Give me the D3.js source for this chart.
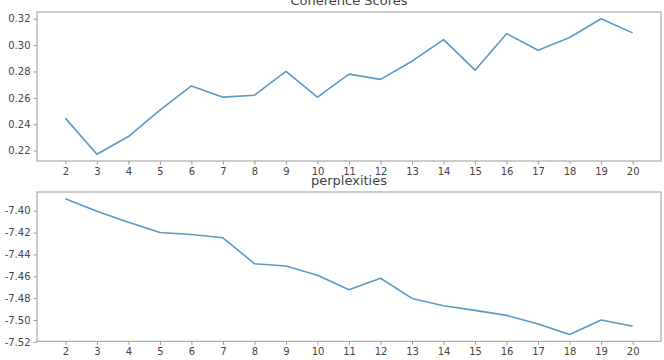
<!DOCTYPE html>
<html>
<head>
<meta charset="utf-8">
<script src="https://cdn.jsdelivr.net/npm/d3@7"></script>
<style>
body { margin: 0; background: #fff; }
text { font-family: "DejaVu Sans", sans-serif; }
</style>
</head>
<body>
<div class="canvas"></div>
<script>
// data
const topics = [2, 3, 4, 5, 6, 7, 8, 9, 10, 11, 12, 13, 14, 15, 16, 17, 18, 19, 20]
const coherence = [0.2446, 0.2172, 0.2306, 0.2507, 0.2690, 0.2605, 0.2620, 0.2800, 0.2605,
    0.2780, 0.2740, 0.2878, 0.3042, 0.2810, 0.3087, 0.2961, 0.3058, 0.3200, 0.3093]
const perplexity = [-7.3891, -7.4006, -7.4106, -7.4200, -7.4218, -7.4248, -7.4485, -7.4506, -7.4591,
    -7.4724, -7.4618, -7.4803, -7.4870, -7.4912, -7.4958, -7.5036, -7.5133, -7.5000, -7.5058]
const coherenceTicks = [0.22, 0.24, 0.26, 0.28, 0.30, 0.32]
const perplexityTicks = [-7.40, -7.42, -7.44, -7.46, -7.48, -7.50, -7.52]

const width = 664, height = 360
const svg = d3.select(".canvas").append("svg")
    .attr("width", width)
    .attr("height", height)

const lineColor = "#5a9ac6"
const frameColor = "#9a9a9a"
const textColor = "#444"

// matplotlib style 5% padding
const padded = (ext) => {
    const m = (ext[1] - ext[0]) * 0.05
    return [ext[0] - m, ext[1] + m]
}

const drawPanel = (opts) => {
    const {left, right, top, bottom, values, ticks, title, titleY} = opts

    const x = d3.scaleLinear().domain(padded(d3.extent(topics))).range([left, right])
    const y = d3.scaleLinear().domain(padded(d3.extent(values))).range([bottom, top])

    const g = svg.append("g")

    // axes
    const xAxis = d3.axisBottom(x).tickValues(topics).tickSize(3.5).tickPadding(3).tickFormat(d3.format("d"))
    const yAxis = d3.axisLeft(y).tickValues(ticks).tickSize(3.5).tickPadding(3).tickFormat(d3.format(".2f"))

    const xg = g.append("g").attr("transform", `translate(0,${bottom})`).call(xAxis)
    const yg = g.append("g").attr("transform", `translate(${left},0)`).call(yAxis)
    for (const ag of [xg, yg]) {
        ag.select(".domain").remove()
        ag.selectAll("line").attr("stroke", frameColor)
        ag.selectAll("text").attr("fill", textColor).style("font-size", "10px")
    }
    yg.selectAll("text").text(d => d3.format(".2f")(d).replace("−", "-"))

    // line
    const line = d3.line()
        .x((d, i) => x(topics[i]))
        .y(d => y(d))
    g.append("path")
        .datum(values)
        .attr("fill", "none")
        .attr("stroke", lineColor)
        .attr("stroke-width", 1.6)
        .attr("stroke-linejoin", "round")
        .attr("d", line)

    // frame
    g.append("rect")
        .attr("x", left)
        .attr("y", top)
        .attr("width", right - left)
        .attr("height", bottom - top)
        .attr("fill", "none")
        .attr("stroke", frameColor)
        .attr("stroke-width", 1)

    // title
    g.append("text")
        .attr("x", (left + right) / 2)
        .attr("y", titleY)
        .attr("text-anchor", "middle")
        .attr("fill", textColor)
        .style("font-size", "13px")
        .text(title)
}

drawPanel({left: 37, right: 661, top: 12, bottom: 161,
    values: coherence, ticks: coherenceTicks, title: "Coherence Scores", titleY: 5})
drawPanel({left: 37, right: 661, top: 192, bottom: 341.3,
    values: perplexity, ticks: perplexityTicks, title: "perplexities", titleY: 185})
</script>
</body>
</html>
